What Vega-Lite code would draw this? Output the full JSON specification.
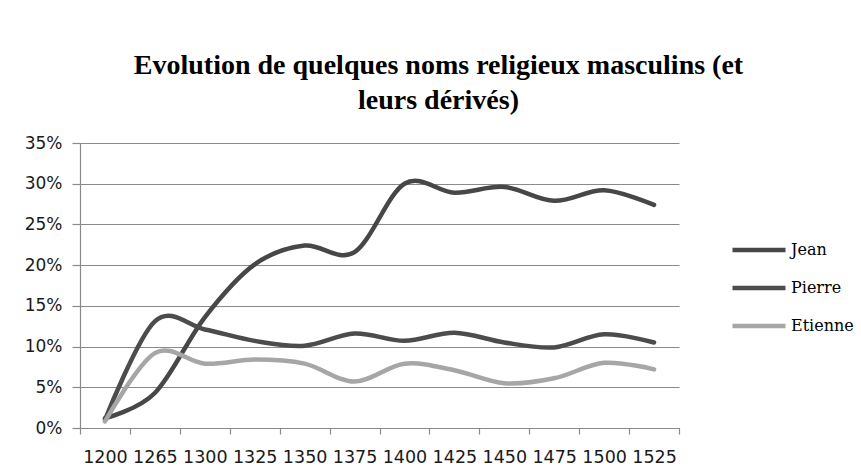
{
  "$schema": "https://vega.github.io/schema/vega-lite/v6.json",
  "width": 599,
  "height": 285,
  "autosize": {"type": "none"},
  "padding": {"left": 80, "top": 143, "right": 182, "bottom": 47},
  "background": "white",
  "title": {
    "text": ["Evolution de quelques noms religieux masculins (et", "leurs dérivés)"],
    "font": "Liberation Serif",
    "fontSize": 28,
    "fontWeight": "bold",
    "color": "#000000",
    "anchor": "middle",
    "frame": "group",
    "dx": 59,
    "lineHeight": 35,
    "offset": 19
  },
  "data": {
    "values": [
      {"annee": "1200", "nom": "Jean", "part": 0.012},
      {"annee": "1265", "nom": "Jean", "part": 0.043},
      {"annee": "1300", "nom": "Jean", "part": 0.136},
      {"annee": "1325", "nom": "Jean", "part": 0.201},
      {"annee": "1350", "nom": "Jean", "part": 0.224},
      {"annee": "1375", "nom": "Jean", "part": 0.216},
      {"annee": "1400", "nom": "Jean", "part": 0.300},
      {"annee": "1425", "nom": "Jean", "part": 0.289},
      {"annee": "1450", "nom": "Jean", "part": 0.296},
      {"annee": "1475", "nom": "Jean", "part": 0.279},
      {"annee": "1500", "nom": "Jean", "part": 0.292},
      {"annee": "1525", "nom": "Jean", "part": 0.274},
      {"annee": "1200", "nom": "Pierre", "part": 0.010},
      {"annee": "1265", "nom": "Pierre", "part": 0.131},
      {"annee": "1300", "nom": "Pierre", "part": 0.121},
      {"annee": "1325", "nom": "Pierre", "part": 0.107},
      {"annee": "1350", "nom": "Pierre", "part": 0.101},
      {"annee": "1375", "nom": "Pierre", "part": 0.116},
      {"annee": "1400", "nom": "Pierre", "part": 0.107},
      {"annee": "1425", "nom": "Pierre", "part": 0.117},
      {"annee": "1450", "nom": "Pierre", "part": 0.105},
      {"annee": "1475", "nom": "Pierre", "part": 0.099},
      {"annee": "1500", "nom": "Pierre", "part": 0.115},
      {"annee": "1525", "nom": "Pierre", "part": 0.105},
      {"annee": "1200", "nom": "Etienne", "part": 0.008},
      {"annee": "1265", "nom": "Etienne", "part": 0.092},
      {"annee": "1300", "nom": "Etienne", "part": 0.079},
      {"annee": "1325", "nom": "Etienne", "part": 0.084},
      {"annee": "1350", "nom": "Etienne", "part": 0.079},
      {"annee": "1375", "nom": "Etienne", "part": 0.057},
      {"annee": "1400", "nom": "Etienne", "part": 0.079},
      {"annee": "1425", "nom": "Etienne", "part": 0.071},
      {"annee": "1450", "nom": "Etienne", "part": 0.055},
      {"annee": "1475", "nom": "Etienne", "part": 0.061},
      {"annee": "1500", "nom": "Etienne", "part": 0.080},
      {"annee": "1525", "nom": "Etienne", "part": 0.072}
    ]
  },
  "mark": {
    "type": "line",
    "interpolate": "cardinal",
    "tension": 0,
    "strokeWidth": 4.5,
    "strokeCap": "round",
    "strokeJoin": "round"
  },
  "encoding": {
    "x": {
      "field": "annee",
      "type": "ordinal",
      "bandPosition": 0.5,
      "scale": {"type": "band", "paddingInner": 0, "paddingOuter": 0},
      "axis": {
        "title": null,
        "labelAngle": 0,
        "grid": false,
        "tickBand": "extent",
        "domainColor": "#8a8a8a",
        "domainWidth": 1.2,
        "tickColor": "#8a8a8a",
        "tickWidth": 1.2,
        "tickSize": 6,
        "labelFont": "DejaVu Sans",
        "labelFontSize": 17.5,
        "labelColor": "#1a1a1a",
        "labelPadding": 14
      }
    },
    "y": {
      "field": "part",
      "type": "quantitative",
      "scale": {"domain": [0, 0.35], "nice": false},
      "axis": {
        "title": null,
        "values": [0, 0.05, 0.1, 0.15, 0.2, 0.25, 0.3, 0.35],
        "format": ".0%",
        "grid": true,
        "gridColor": "#8a8a8a",
        "gridWidth": 1.2,
        "domainColor": "#8a8a8a",
        "domainWidth": 1.2,
        "tickColor": "#8a8a8a",
        "tickWidth": 1.2,
        "tickSize": 8,
        "labelFont": "DejaVu Sans",
        "labelFontSize": 17,
        "labelColor": "#1a1a1a",
        "labelPadding": 10
      }
    },
    "color": {
      "field": "nom",
      "type": "nominal",
      "scale": {"domain": ["Jean", "Pierre", "Etienne"], "range": ["#474747", "#4c4c4c", "#a6a6a6"]},
      "legend": {
        "title": null,
        "orient": "none",
        "legendX": 650,
        "legendY": 78,
        "padding": 0,
        "symbolType": "stroke",
        "symbolSize": 2809,
        "symbolStrokeWidth": 4.5,
        "rowPadding": -14,
        "labelFont": "DejaVu Serif",
        "labelFontSize": 16,
        "labelColor": "#000000",
        "labelOffset": 3
      }
    }
  },
  "config": {"view": {"stroke": null}}
}
